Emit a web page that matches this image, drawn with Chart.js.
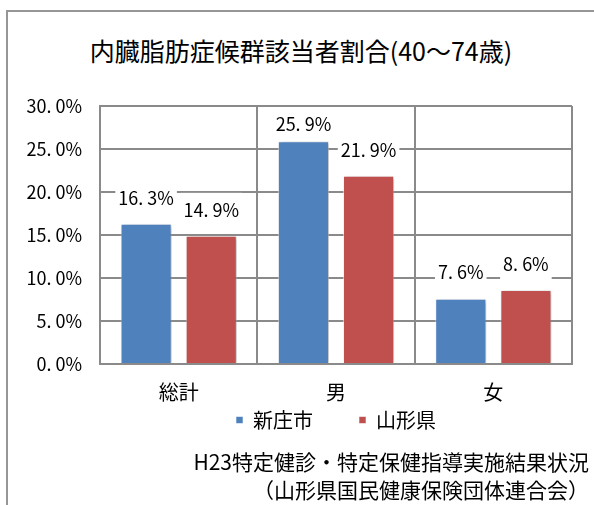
<!DOCTYPE html>
<html lang="ja">
<head>
<meta charset="utf-8">
<script src="https://cdn.jsdelivr.net/npm/chart.js@4"></script>
<style>
body{margin:0;background:#fff;font-family:"Noto Sans CJK JP",sans-serif;color:#000;}
#wrap{position:relative;width:594px;height:505px;overflow:hidden;background:#fff;}
#frame{position:absolute;left:6px;top:10px;width:700px;height:600px;border:2px solid #969696;}
#box{position:absolute;left:0;top:0;width:594px;height:505px;}
#title{position:absolute;left:0;top:32px;width:602px;text-align:center;font-size:25px;line-height:36px;}
#source{position:absolute;right:5px;top:447px;text-align:right;font-size:21px;line-height:28px;}
</style>
</head>
<body>
<div id="wrap">
  <div id="frame"></div>
  <div id="title">内臓脂肪症候群該当者割合(40～74歳)</div>
  <div id="box"><canvas id="metaboChart"></canvas></div>
  <div id="source">H23特定健診・特定保健指導実施結果状況<br>（山形県国民健康保険団体連合会）</div>
</div>

<script>
// 該当者割合 (%)
const categories = ['総計', '男', '女'];
const seriesNames = ['新庄市', '山形県'];
const shinjo = [16.3, 25.9, 7.6];
const yamagata = [14.9, 21.9, 8.6];
const yMax = 30;
const yStep = 5;

const fontFamily = '"Noto Sans CJK JP", sans-serif';
const gridGray = '#8a8a8a';

// "16.3" -> "16. 3%"
function fmt(v){
    return v.toFixed(1).replace('.', '. ') + '%';
}


// soft shadow under the bars
const barShadow = {
    id:'barShadow',
    beforeDatasetsDraw(chart){
        const c = chart.ctx;
        c.save();
        c.shadowColor = 'rgba(0,0,0,0.28)';
        c.shadowBlur = 4;
        c.shadowOffsetX = 2;
        c.shadowOffsetY = 1;
    },
    afterDatasetsDraw(chart){
        chart.ctx.restore();
    }
};


// value labels on white boxes above each bar
const valueLabels = {
    id:'valueLabels',
    afterDraw(chart){
        const c = chart.ctx;
        const top = chart.chartArea.top;
        c.save();
        c.font = '18px ' + fontFamily;
        c.textAlign = 'center';
        c.textBaseline = 'middle';
        chart.data.datasets.forEach((ds, i) => {
            chart.getDatasetMeta(i).data.forEach((bar, j) => {
                const text = fmt(ds.data[j]);
                const y = Math.max(bar.y - 26, top + 18);
                const w = c.measureText(text).width + 6;
                c.fillStyle = '#fff';
                c.fillRect(bar.x - w / 2, y - 17, w, 34);
                c.fillStyle = '#000';
                c.fillText(text, bar.x, y);
            });
        });
        c.restore();
    }
};


new Chart(

document.getElementById('metaboChart'),

{
    type:'bar',

    data:{
        labels:categories,
        datasets:[
            {
                label:seriesNames[0],
                data:shinjo,
                backgroundColor:'#4f81bd',
                borderColor:'rgba(255,255,255,0.55)',
                borderWidth:1
            },
            {
                label:seriesNames[1],
                data:yamagata,
                backgroundColor:'#c0504d',
                borderColor:'rgba(255,255,255,0.55)',
                borderWidth:1
            }
        ]
    },

    options:{
        responsive:true,
        maintainAspectRatio:false,
        animation:false,
        categoryPercentage:0.828,
        barPercentage:0.785,
        layout:{
            padding:{top:106, right:22, bottom:65, left:0}
        },
        scales:{
            x:{
                offset:true,
                grid:{
                    color:gridGray,
                    lineWidth:2,
                    drawTicks:false,
                    offset:true
                },
                border:{color:gridGray, width:2},
                // mirrored so the labels are not clipped to the zero-height axis box,
                // which lets the legend sit right under the plot
                ticks:{
                    color:'#000',
                    mirror:true,
                    padding:-40,
                    font:{family:fontFamily, size:20}
                },
                afterFit:s => { s.height = 0; }
            },
            y:{
                min:0,
                max:yMax,
                grid:{
                    color:gridGray,
                    lineWidth:2,
                    drawTicks:false
                },
                border:{color:gridGray, width:2},
                ticks:{
                    stepSize:yStep,
                    color:'#000',
                    padding:18,
                    font:{family:fontFamily, size:18},
                    callback:v => fmt(v)
                },
                afterFit:s => { s.width = 100; }
            }
        },
        plugins:{
            legend:{
                position:'bottom',
                fullSize:false,
                labels:{
                    boxWidth:7,
                    boxHeight:7,
                    padding:46,
                    color:'#000',
                    font:{family:fontFamily, size:20}
                }
            },
            tooltip:{enabled:false}
        }
    },

    plugins:[barShadow, valueLabels]
});
</script>
</body>
</html>
